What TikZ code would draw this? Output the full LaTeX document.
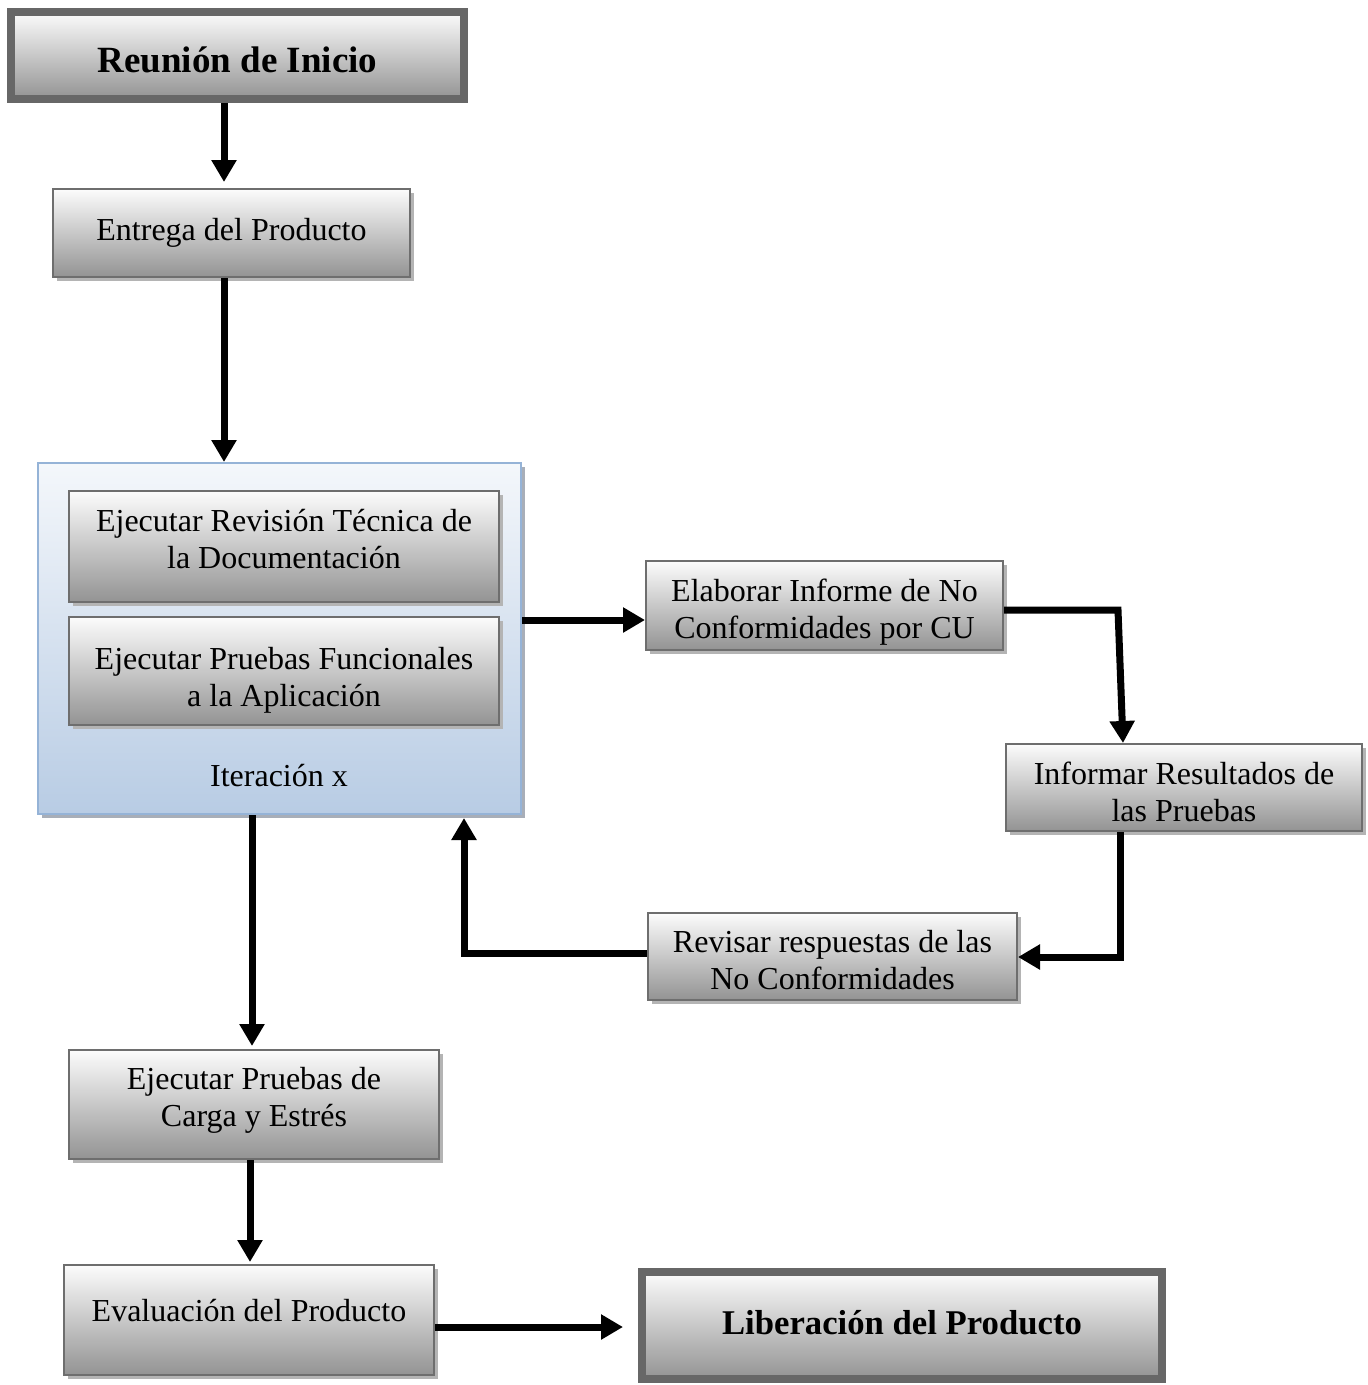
\documentclass[tikz,border=0pt]{standalone}
\usepackage{fontspec}
\setmainfont{Liberation Serif}
\usetikzlibrary{arrows.meta,shadows}

\definecolor{boxline}{HTML}{6E6E6E}
\definecolor{keyline}{HTML}{676767}
\definecolor{boxtop}{HTML}{FCFCFC}
\definecolor{boxbot}{HTML}{939393}
\definecolor{shadowgray}{HTML}{B4B4B4}
\definecolor{groupline}{HTML}{95B3D7}
\definecolor{grouptop}{HTML}{F4F7FB}
\definecolor{groupbot}{HTML}{B8CCE4}
\definecolor{groupshadow}{HTML}{A8AEB8}

\newcommand\nodetextfont{\fontsize{32}{37}\selectfont}
\newcommand\keytextfont{\fontsize{37}{42}\selectfont\bfseries}
% centred lines, lifted by #1 without changing the space they take
\newcommand\boxtext[2]{\raisebox{#1}[\height][\depth]{\begin{tabular}{@{}c@{}}#2\end{tabular}}}
\newcommand\lifted[2]{\raisebox{#1}[\height][\depth]{#2}}

\tikzset{
  box/.style={draw=boxline, line width=2pt, top color=boxtop, bottom color=boxbot,
    align=center, font=\nodetextfont, inner sep=0pt,
    drop shadow={shadow xshift=4pt, shadow yshift=-4pt, fill=shadowgray, opacity=1}},
  keybox/.style={box, draw=keyline, line width=8pt, font=\keytextfont},
  groupbox/.style={draw=groupline, line width=2pt, top color=grouptop, bottom color=groupbot,
    inner sep=0pt,
    drop shadow={shadow xshift=4pt, shadow yshift=-4pt, fill=groupshadow, opacity=1}},
  arr/.style={line width=7pt, draw=black, -{Triangle[length=22pt,width=24pt]}},
}

\begin{document}
\begin{tikzpicture}[x=1pt, y=-1pt]
\useasboundingbox (0,0) rectangle (1368,1385);

% start and end steps
\node[keybox, minimum width=453pt, minimum height=87pt] (start) at (237.5,55.5)
  {\lifted{-4.5pt}{Reunión de Inicio}};
\node[keybox, minimum width=520pt, minimum height=107pt, font=\fontsize{34.7}{40}\selectfont\bfseries]
  (release) at (902,1325.5) {\lifted{3pt}{Liberación del Producto}};

% delivery
\node[box, minimum width=357pt, minimum height=88pt] (deliver) at (231.5,233) {Entrega del Producto};

% iteration group with its two activities
\node[groupbox, minimum width=483pt, minimum height=351pt] (iter) at (279.5,638.5) {};
\node[box, minimum width=430pt, minimum height=111pt] (review) at (284,546.5)
  {\boxtext{4.3pt}{Ejecutar Revisión Técnica de\\la Documentación}};
\node[box, minimum width=430pt, minimum height=108pt] (functional) at (284,671)
  {\boxtext{-9.2pt}{Ejecutar Pruebas Funcionales\\a la Aplicación}};
\node[font=\nodetextfont] (iterlabel) at (279,776) {Iteración x};

% nonconformity loop
\node[box, minimum width=357pt, minimum height=89pt] (report) at (824.5,605.5)
  {\boxtext{-7.2pt}{Elaborar Informe de No\\Conformidades por CU}};
\node[box, minimum width=356pt, minimum height=87pt] (inform) at (1184,787.5)
  {\boxtext{-7.7pt}{Informar Resultados de\\las Pruebas}};
\node[box, minimum width=369pt, minimum height=87pt] (answers) at (832.5,956.5)
  {\boxtext{-7.2pt}{Revisar respuestas de las\\No Conformidades}};

% load tests and evaluation
\node[box, minimum width=370pt, minimum height=109pt] (load) at (254,1104.5)
  {\boxtext{3.8pt}{Ejecutar Pruebas de\\Carga y Estrés}};
\node[box, minimum width=370pt, minimum height=110pt] (evaluate) at (249,1320)
  {\lifted{9pt}{Evaluación del Producto}};

% bend points
\coordinate (b1) at (1118,610);
\coordinate (b2) at (1123,743);
\coordinate (b3) at (1120,957);
\coordinate (b4) at (464,953);

% connectors
\draw[arr, shorten >=6pt] (start.south -| 224,0) -- (deliver.north -| 224,0);
\draw[arr] (deliver.south -| 224,0) -- (iter.north -| 224,0);
\draw[arr] (iter.east |- 0,620) -- (report.west |- 0,620);
\draw[arr] (report.east |- b1) -- (b1) -- (b2);
\draw[arr] (inform.south -| b3) -- (b3) -- (answers.east |- b3);
\draw[arr, shorten >=3pt] (answers.west |- b4) -- (b4) -- (iter.south -| b4);
\draw[arr, shorten >=3pt] (iter.south -| 252,0) -- (load.north -| 252,0);
\draw[arr, shorten >=2pt] (load.south -| 250,0) -- (evaluate.north -| 250,0);
\draw[arr, shorten >=15pt] (evaluate.east |- 0,1327) -- (release.west |- 0,1327);
\end{tikzpicture}
\end{document}
